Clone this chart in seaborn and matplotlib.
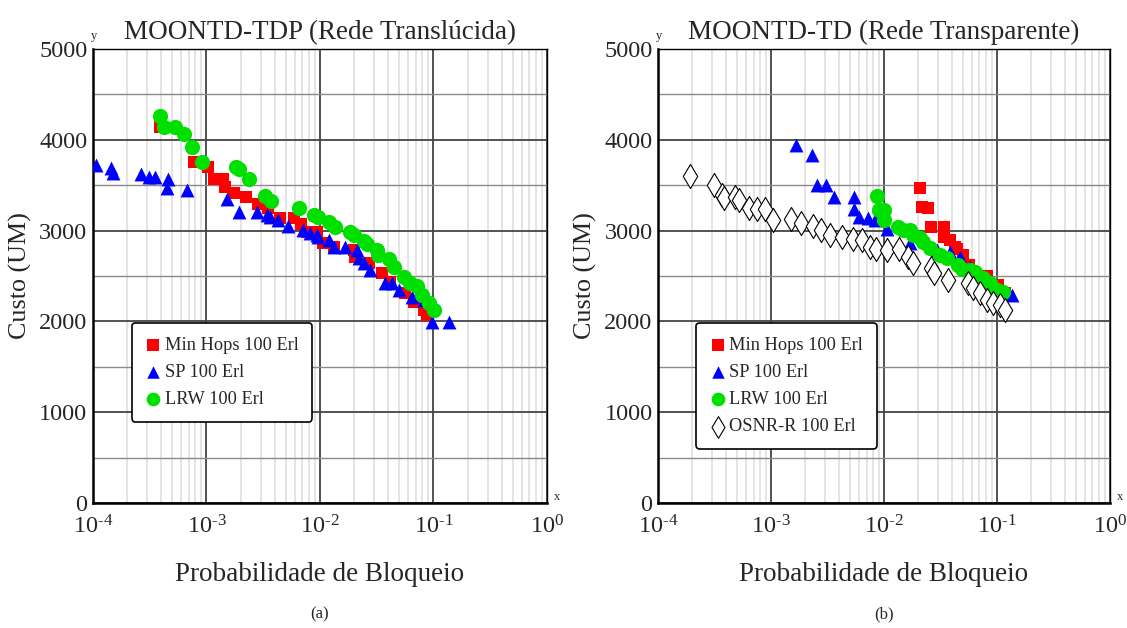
import numpy as np
import pandas as pd
import matplotlib
matplotlib.use("Agg")
import matplotlib.pyplot as plt
import matplotlib.ticker as mticker
import seaborn as sns

# ---- data (blocking probability, cost in UM) ----
# (a) MOONTD-TDP, translucent network
tdp_minhops_x = [3.88e-4, 7.7e-4, 1.035e-3, 1.17e-3, 1.41e-3, 1.46e-3, 1.75e-3, 2.21e-3, 2.86e-3,
                 3.5e-3, 4.45e-3, 5.9e-3, 6.78e-3, 7.66e-3, 9.4e-3, 1.07e-2, 1.32e-2, 1.98e-2,
                 2.05e-2, 2.68e-2, 3.52e-2, 4.17e-2, 5.65e-2, 6.7e-2, 8.2e-2, 8.77e-2]
tdp_minhops_y = [4144, 3755, 3704, 3568, 3568, 3476, 3417, 3366, 3292,
                 3245, 3135, 3135, 3072, 2987, 2987, 2860, 2822, 2786,
                 2712, 2639, 2529, 2437, 2309, 2217, 2125, 2070]

tdp_sp_x = [1.07e-4, 1.43e-4, 1.5e-4, 2.64e-4, 3.1e-4, 3.51e-4, 4.59e-4, 4.5e-4, 6.76e-4,
            1.52e-3, 1.94e-3, 2.8e-3, 3.39e-3, 3.63e-3, 4.31e-3, 5.27e-3, 7.14e-3, 8.18e-3,
            9.4e-3, 9.7e-3, 1.19e-2, 1.32e-2, 1.67e-2, 2.11e-2, 2.19e-2, 2.42e-2, 2.77e-2,
            3.76e-2, 4.3e-2, 4.93e-2, 6.47e-2, 8.2e-2, 9.7e-2, 0.136]
tdp_sp_y = [3722, 3686, 3630, 3622, 3593, 3586, 3571, 3465, 3447,
            3347, 3208, 3208, 3172, 3153, 3116, 3050, 3006, 2969,
            2951, 2932, 2896, 2822, 2822, 2786, 2694, 2639, 2566,
            2419, 2419, 2346, 2272, 2235, 1997, 1997]

tdp_lrw_x = [3.88e-4, 4.24e-4, 5.33e-4, 6.37e-4, 7.45e-4, 9.1e-4, 1.82e-3, 1.94e-3, 2.35e-3,
             3.28e-3, 3.71e-3, 6.55e-3, 8.81e-3, 9.7e-3, 1.19e-2, 1.36e-2, 1.85e-2, 1.98e-2,
             2.45e-2, 2.59e-2, 3.18e-2, 3.24e-2, 4.03e-2, 4.46e-2, 5.46e-2, 6.25e-2, 7.16e-2,
             7.93e-2, 9.08e-2, 0.1005]
tdp_lrw_y = [4265, 4137, 4137, 4060, 3917, 3755, 3704, 3678, 3568,
             3384, 3329, 3249, 3172, 3153, 3091, 3043, 2981, 2951,
             2889, 2852, 2786, 2731, 2687, 2602, 2492, 2419, 2390,
             2290, 2206, 2125]

# (b) MOONTD-TD, transparent network
td_minhops_x = [2.09e-2, 2.16e-2, 2.47e-2, 2.59e-2, 3.4e-2, 3.4e-2, 3.84e-2, 4.25e-2, 4.4e-2,
                5.03e-2, 5.69e-2, 8.1e-2, 0.103, 0.118]
td_minhops_y = [3465, 3256, 3245, 3043, 3036, 2932, 2896, 2822, 2793,
                2731, 2620, 2500, 2400, 2309]

td_sp_x = [1.66e-3, 2.29e-3, 2.57e-3, 3.07e-3, 3.62e-3, 5.46e-3, 5.4e-3, 6.0e-3, 7.26e-3,
           8.3e-3, 1.07e-2, 1.7e-2, 2.92e-2, 3.84e-2, 4.71e-2, 5.77e-2, 7.08e-2, 9.27e-2, 0.135]
td_sp_y = [3942, 3832, 3501, 3501, 3366, 3366, 3237, 3146, 3135,
           3116, 3017, 2860, 2786, 2767, 2712, 2602, 2492, 2419, 2290]

td_lrw_x = [8.6e-3, 9.1e-3, 9.9e-3, 9.9e-3, 1.34e-2, 1.48e-2, 1.7e-2, 1.82e-2, 2.09e-2,
            2.23e-2, 2.55e-2, 3.13e-2, 3.59e-2, 4.55e-2, 4.86e-2, 5.77e-2, 6.38e-2, 7.55e-2,
            8.67e-2, 9.93e-2, 0.114]
td_lrw_y = [3380, 3226, 3226, 3116, 3043, 3006, 3006, 2951, 2914,
            2877, 2805, 2731, 2694, 2620, 2573, 2566, 2547, 2474,
            2419, 2346, 2327]

td_osnr_x = [1.92e-4, 3.13e-4, 3.66e-4, 3.84e-4, 4.8e-4, 5.24e-4, 6.38e-4, 7.57e-4, 8.85e-4,
             1.05e-3, 1.51e-3, 1.83e-3, 2.34e-3, 2.75e-3, 3.33e-3, 4.22e-3, 5.35e-3, 6.34e-3,
             7.52e-3, 8.49e-3, 1.06e-2, 1.36e-2, 1.64e-2, 1.79e-2, 2.59e-2, 2.77e-2, 3.66e-2,
             5.57e-2, 6.18e-2, 7.08e-2, 8.1e-2, 9.27e-2, 0.106, 0.118]
td_osnr_y = [3600, 3501, 3391, 3354, 3373, 3336, 3245, 3237, 3234,
             3116, 3123, 3087, 3050, 3006, 2951, 2932, 2903, 2896,
             2815, 2793, 2786, 2793, 2705, 2639, 2584, 2529, 2455,
             2419, 2364, 2309, 2235, 2199, 2180, 2125]

# marker styles per algorithm
STYLES = {
    'Min Hops 100 Erl': dict(marker='s', color='#ff0000', edgecolor='#ff0000', s=85, linewidth=0),
    'SP 100 Erl': dict(marker='^', color='#0000ff', edgecolor='#0000ff', s=100, linewidth=0),
    'LRW 100 Erl': dict(marker='o', color='#00e000', edgecolor='#00e000', s=120, linewidth=0),
    'OSNR-R 100 Erl': dict(marker='d', color='white', edgecolor='black', s=150, linewidth=0.8),
}

sns.set_style("white")
plt.rcParams['font.family'] = ['Liberation Serif', 'DejaVu Serif']
plt.rcParams['mathtext.fontset'] = 'custom'
plt.rcParams['mathtext.rm'] = 'Liberation Serif'
plt.rcParams['mathtext.it'] = 'Liberation Serif:italic'


def decade_label(val, pos):
    # 10^-4 style labels with a plain hyphen in the exponent
    exp = int(round(np.log10(val)))
    sign = r'\text{-}' if exp < 0 else ''
    return r'$\mathdefault{10^{%s%d}}$' % (sign, abs(exp))


def draw_panel(ax, series, title, caption):
    for label, xs, ys in series:
        df = pd.DataFrame({'prob': xs, 'custo': ys})
        sns.scatterplot(data=df, x='prob', y='custo', ax=ax, label=label, zorder=3,
                        **STYLES[label])

    ax.set_xscale('log')
    ax.set_xlim(1e-4, 1)
    ax.set_ylim(0, 5000)
    ax.yaxis.set_major_locator(mticker.MultipleLocator(1000))
    ax.yaxis.set_minor_locator(mticker.MultipleLocator(500))
    ax.xaxis.set_major_locator(mticker.LogLocator(base=10, numticks=10))
    ax.xaxis.set_major_formatter(mticker.FuncFormatter(decade_label))
    ax.xaxis.set_minor_locator(mticker.LogLocator(base=10, subs=np.arange(2, 10), numticks=20))
    ax.xaxis.set_minor_formatter(mticker.NullFormatter())

    # grid: dark decades / thousands, light minors
    ax.grid(True, which='major', axis='x', color='#333333', linewidth=1.2, zorder=0)
    ax.grid(True, which='minor', axis='x', color='#dcdcdc', linewidth=1.1, zorder=0)
    ax.grid(True, which='major', axis='y', color='#444444', linewidth=1.3, zorder=0)
    ax.grid(True, which='minor', axis='y', color='#8a8a8a', linewidth=1.0, zorder=0)
    ax.set_axisbelow(True)

    ax.tick_params(which='both', length=0, labelsize=17.5)
    ax.tick_params(axis='y', pad=4)
    ax.tick_params(axis='x', pad=9)
    for side in ['left', 'bottom']:
        ax.spines[side].set_linewidth(1.8)
        ax.spines[side].set_color('black')
    for side in ['top', 'right']:
        ax.spines[side].set_linewidth(1.0)
        ax.spines[side].set_color('black')

    ax.set_title(title, fontsize=19.5, pad=7)
    ax.set_xlabel('Probabilidade de Bloqueio', fontsize=19.5, labelpad=17)
    ax.set_ylabel('Custo (UM)', fontsize=18.7, labelpad=5)
    ax.text(-0.004, 1.015, 'y', transform=ax.transAxes, fontsize=9, ha='left', va='bottom')
    ax.text(1.015, 0.0, 'x', transform=ax.transAxes, fontsize=9, ha='left', va='bottom')
    ax.text(0.5, -0.245, caption, transform=ax.transAxes, fontsize=12, ha='center', va='center')

    leg = ax.legend(loc='upper left', bbox_to_anchor=(0.085, 0.397), borderaxespad=0,
                    fontsize=13.2, frameon=True, fancybox=True, edgecolor='black', framealpha=1,
                    handletextpad=0.25, borderpad=0.75, labelspacing=0.56, handlelength=0.8,
                    markerscale=0.9)
    leg.get_frame().set_linewidth(1.2)


def main():
    fig = plt.figure(figsize=(11.27, 6.28), dpi=100)
    ax_a = fig.add_axes([0.0825, 0.199, 0.4028, 0.723])
    ax_b = fig.add_axes([0.5839, 0.199, 0.401, 0.723])

    draw_panel(ax_a, [
        ('Min Hops 100 Erl', tdp_minhops_x, tdp_minhops_y),
        ('SP 100 Erl', tdp_sp_x, tdp_sp_y),
        ('LRW 100 Erl', tdp_lrw_x, tdp_lrw_y),
    ], 'MOONTD-TDP (Rede Translúcida)', '(a)')

    draw_panel(ax_b, [
        ('Min Hops 100 Erl', td_minhops_x, td_minhops_y),
        ('SP 100 Erl', td_sp_x, td_sp_y),
        ('LRW 100 Erl', td_lrw_x, td_lrw_y),
        ('OSNR-R 100 Erl', td_osnr_x, td_osnr_y),
    ], 'MOONTD-TD (Rede Transparente)', '(b)')

    fig.savefig('out.png', dpi=100)
    plt.close(fig)


if __name__ == "__main__":
    main()
